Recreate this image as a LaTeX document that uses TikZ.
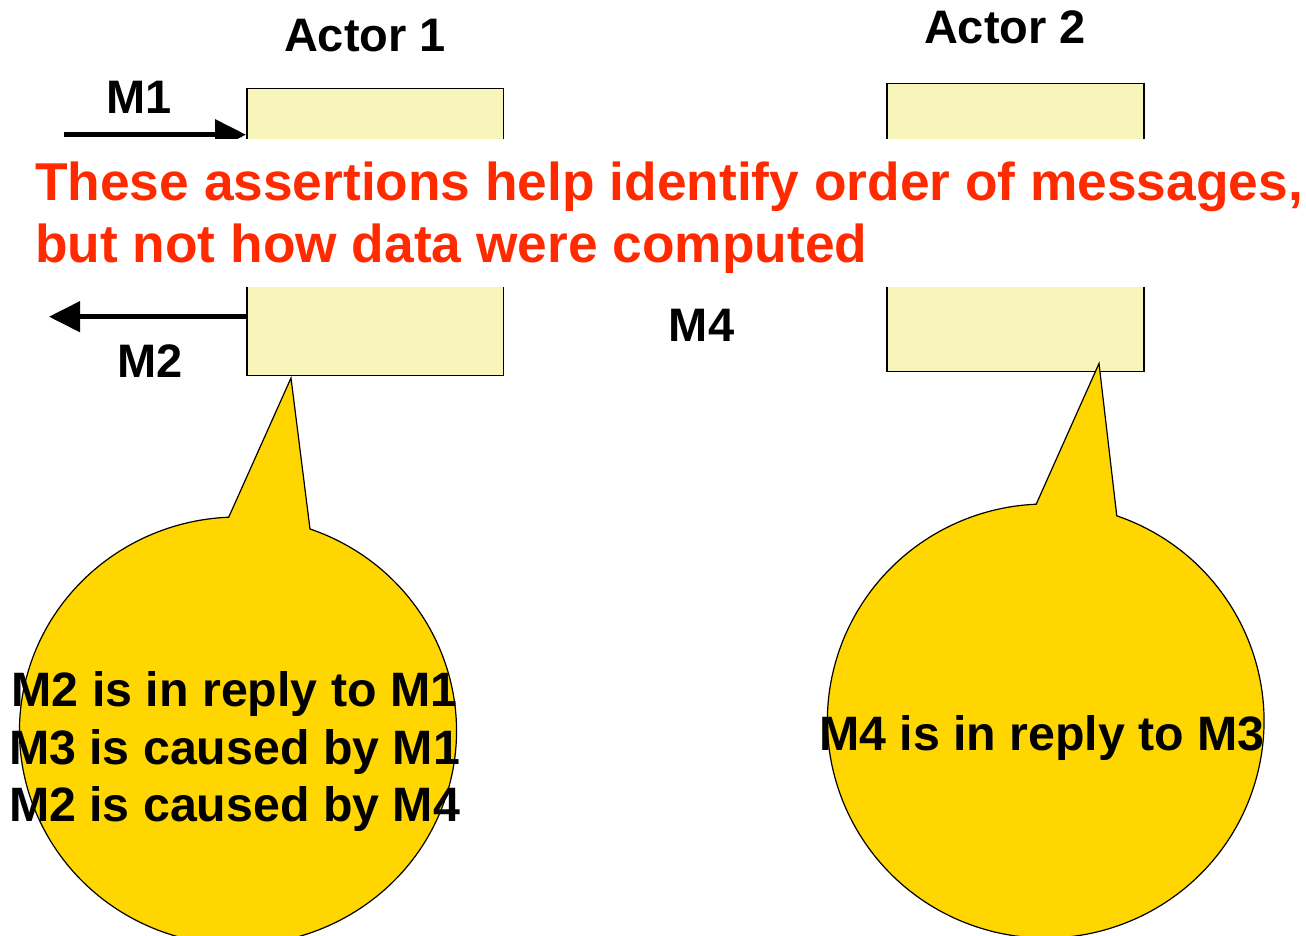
\documentclass[tikz,border=0pt]{standalone}
\usepackage{fontspec}
\setmainfont{Liberation Sans}
\usetikzlibrary{arrows.meta,calc}
\definecolor{boxfill}{HTML}{F7F5BA}
\definecolor{bubblefill}{HTML}{FFD600}
\definecolor{alertred}{HTML}{FF2A00}
\tikzset{
  actorbox/.style={draw=black, line width=1.5pt, fill=boxfill},
  bubble/.style={draw=black, line width=1.2pt, fill=bubblefill},
  lbl/.style={font=\fontsize{47}{55}\selectfont\bfseries, inner sep=0pt, anchor=base},
  bubtext/.style={font=\fontsize{48.3}{57}\selectfont\bfseries, inner sep=0pt, anchor=base},
  redtext/.style={font=\fontsize{53.3}{63}\selectfont\bfseries, text=alertred, inner sep=0pt, anchor=base west},
  msg/.style={line width=4.5pt, -{Triangle[length=31pt, width=30pt]}},
}
\begin{document}
\begin{tikzpicture}[x=1pt,y=1pt]
\useasboundingbox (0,0) rectangle (1306,935);
% actor boxes
\node[actorbox, minimum width=256.5pt, minimum height=287pt, inner sep=0pt, anchor=south west] (box1) at (246,558.5) {};
\node[actorbox, minimum width=257pt, minimum height=288pt, inner sep=0pt, anchor=south west] (box2) at (886,562.5) {};
% labels
\node[lbl] (actor1) at (365,883) {Actor 1};
\node[lbl] (actor2) at (1005,891) {Actor 2};
\node[lbl] (m1) at (139,821) {M1};
\node[lbl] (m2) at (150,557) {M2};
\node[lbl] (m4) at (701.5,593.5) {M4};
% messages
\coordinate (m1start) at (64,800.3);
\coordinate (m2end) at (49,618.3);
\draw[msg] (m1start) -- (m1start -| box1.west);
\draw[msg] (m2end -| box1.west) -- (m2end);
% white band with red text
\fill[white] (30,648) rectangle (1306,796);
\node[redtext] (red1) at (35,734.5) {These assertions help identify order of messages,};
\node[redtext] (red2) at (35,672.5) {but not how data were computed};
% bubble 1
\coordinate (b1c) at (238,204);
\coordinate (tip1) at (291,557);
\draw[bubble] ($(b1c)+(70.76:218.5 and 214)$) arc[start angle=70.76, end angle=-267.56, x radius=218.5, y radius=214] -- (tip1) -- cycle;
\node[bubtext] (t1a) at (234.5,228.5) {M2 is in reply to M1};
\node[bubtext] (t1b) at (234.5,170.5) {M3 is caused by M1};
\node[bubtext] (t1c) at (234.5,113.5) {M2 is caused by M4};
% bubble 2
\coordinate (b2c) at (1045.7,214);
\coordinate (tip2) at (1099,571.5);
\draw[bubble] ($(b2c)+(71:218.3 and 217)$) arc[start angle=71, end angle=-267.5, x radius=218.3, y radius=217] -- (tip2) -- cycle;
\node[bubtext] (t2) at (1042,185) {M4 is in reply to M3};
\end{tikzpicture}
\end{document}
